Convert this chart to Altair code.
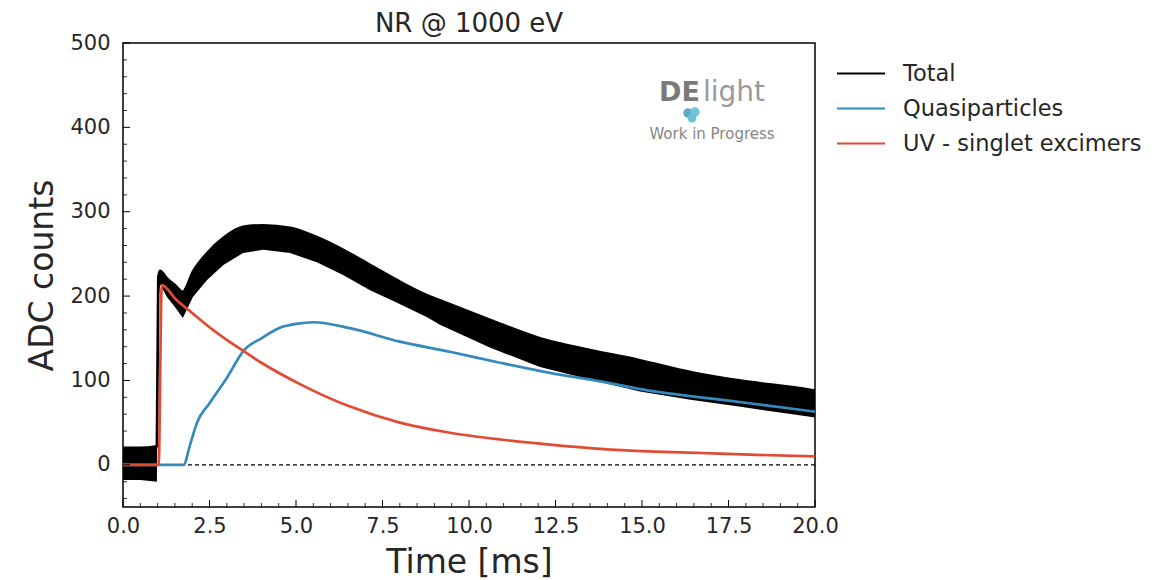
import altair as alt
import pandas as pd

# ---------------- data ----------------
# Total signal: noisy band (lower / upper envelope)
t_band = [0.0, 0.5, 0.98, 1.02, 1.07, 1.27, 1.5, 1.73, 2.02, 2.43, 2.9, 3.47, 4.05,
          4.83, 5.6, 6.36, 7.14, 7.92, 8.79, 9.16, 10.6, 12.05, 13.5, 14.94, 16.4,
          17.8, 19.86, 20.0]
band_upper = [20, 20, 22, 222, 230, 221, 213, 205, 229, 251, 269, 282, 284,
              281, 270, 255, 237, 219, 201, 195, 172, 150, 136, 124, 110,
              100, 89, 88]
band_lower = [-18, -18, -20, 195, 214, 199, 187, 174, 199, 219, 237, 251, 255,
              251, 240, 225, 207, 192, 175, 166, 139, 116, 101, 87, 77,
              69, 57, 56]

# Quasiparticles
t_qp = [0.0, 1.75, 1.94, 2.14, 2.5, 3.0, 3.5, 4.0, 4.5, 5.0, 5.5, 6.56, 8.0, 9.45,
        10.9, 12.34, 13.8, 15.2, 16.7, 18.1, 20.0]
v_qp = [0, 0, 24, 50, 73, 103, 136, 150, 162, 167, 169, 162, 146, 134,
        121, 109, 99, 88, 80, 73, 63]

# UV - singlet excimers
t_uv = [0.0, 1.03, 1.12, 1.53, 2.0, 2.5, 3.0, 3.4, 4.0, 5.1, 6.56, 8.0, 9.45,
        10.9, 12.34, 13.8, 15.2, 16.7, 18.1, 20.0]
v_uv = [0, 0, 213, 196, 180, 163, 148, 137, 121, 96, 69, 50, 38,
        30, 24, 19, 16, 14, 12, 10]

series_names = ["Total", "Quasiparticles", "UV - singlet excimers"]
series_colors = ["#000000", "#348ABD", "#E24A33"]

x_major = [0, 2.5, 5, 7.5, 10, 12.5, 15, 17.5, 20]
x_minor = [0.5, 1, 1.5, 2, 3, 3.5, 4, 4.5, 5.5, 6, 6.5, 7, 8, 8.5, 9, 9.5,
           10.5, 11, 11.5, 12, 13, 13.5, 14, 14.5, 15.5, 16, 16.5, 17, 18, 18.5, 19, 19.5]
y_major = [0, 100, 200, 300, 400, 500]
y_minor = [-40, -20, 20, 40, 60, 80, 120, 140, 160, 180, 220, 240, 260, 280,
           320, 340, 360, 380, 420, 440, 460, 480]

chart_title = ["NR @ 1000 eV"]
logo_words = ["DE", "light", "Work in Progress"]

# ---------------- tables ----------------
band_df = pd.DataFrame({"t": t_band, "lo": band_lower, "hi": band_upper})
lines_df = pd.concat([
    pd.DataFrame({"t": t_band, "v": band_upper, "series": series_names[0]}),
    pd.DataFrame({"t": t_qp, "v": v_qp, "series": series_names[1]}),
    pd.DataFrame({"t": t_uv, "v": v_uv, "series": series_names[2]}),
], ignore_index=True)
lines_df["order"] = lines_df["series"].map({n: i for i, n in enumerate(series_names)})

W, H = 692, 464
FONT = "DejaVu Sans"
TXT = "#262626"

xscale = alt.Scale(domain=[0, 20], nice=False, zero=False)
yscale = alt.Scale(domain=[-50, 500], nice=False, zero=False)

x_axis = alt.Axis(values=x_major, format=".1f", title="Time [ms]", ticks=False, tickSize=0,
                  domain=False, grid=False, labelPadding=8, labelFontSize=21,
                  labelFlush=False, labelFont=FONT, labelColor=TXT,
                  titleFont=FONT, titleColor=TXT,
                  titleFontSize=33, titleX=W / 2, titleY=65, titleBaseline="alphabetic",
                  titleFontWeight="normal")
y_axis = alt.Axis(values=y_major, title="ADC counts", ticks=False, tickSize=0,
                  domain=False, grid=False, labelPadding=13, labelFontSize=21,
                  labelFlush=False, labelFont=FONT, labelColor=TXT,
                  titleFont=FONT, titleColor=TXT,
                  titleFontSize=33, titleX=-71, titleY=H / 2, titleAngle=270,
                  titleAlign="center", titleBaseline="alphabetic", titleFontWeight="normal")

zero_line = alt.Chart(pd.DataFrame({"y": [0]})).mark_rule(
    color="black", strokeWidth=1.2, strokeDash=[4, 3]
).encode(y=alt.Y("y:Q", scale=yscale, axis=y_axis))

band = alt.Chart(band_df).mark_area(color="black", opacity=1, interpolate="linear").encode(
    x=alt.X("t:Q", scale=xscale, axis=x_axis),
    y=alt.Y("lo:Q", scale=yscale),
    y2="hi:Q",
)

lines = alt.Chart(lines_df).mark_line(strokeWidth=2.7, interpolate="monotone").encode(
    x=alt.X("t:Q", scale=xscale),
    y=alt.Y("v:Q", scale=yscale),
    color=alt.Color("series:N",
                    scale=alt.Scale(domain=series_names, range=series_colors),
                    sort=series_names,
                    legend=alt.Legend(title=None, orient="none", legendX=713, legendY=13,
                                      symbolType="stroke", symbolSize=2304,
                                      symbolStrokeWidth=2, labelFontSize=22.5,
                                      labelOffset=17, rowPadding=0, clipHeight=35,
                                      padding=0, labelLimit=400,
                                      labelFont=FONT, labelColor=TXT)),
    order="order:Q",
)

# inward ticks
ytick_major = alt.Chart(pd.DataFrame({"v": y_major})).mark_rule(color="black", strokeWidth=1).encode(
    y=alt.Y("v:Q", scale=yscale), x=alt.value(0), x2=alt.value(7))
ytick_minor = alt.Chart(pd.DataFrame({"v": y_minor})).mark_rule(color="black", strokeWidth=0.8).encode(
    y=alt.Y("v:Q", scale=yscale), x=alt.value(0), x2=alt.value(4))
xtick_major = alt.Chart(pd.DataFrame({"v": x_major})).mark_rule(color="black", strokeWidth=1).encode(
    x=alt.X("v:Q", scale=xscale), y=alt.value(H), y2=alt.value(H - 7))
xtick_minor = alt.Chart(pd.DataFrame({"v": x_minor})).mark_rule(color="black", strokeWidth=0.8).encode(
    x=alt.X("v:Q", scale=xscale), y=alt.value(H), y2=alt.value(H - 4))

# title as text
title_mark = alt.Chart(pd.DataFrame({"w": chart_title})).mark_text(
    font=FONT, fontSize=26, color=TXT, align="center", baseline="alphabetic"
).encode(text="w:N", x=alt.value(W / 2), y=alt.value(-11))

# watermark logo
logo_de = alt.Chart(pd.DataFrame({"w": [logo_words[0]]})).mark_text(
    font=FONT, fontWeight="bold", fontSize=27, color="#7a7a7a", align="left",
    baseline="alphabetic").encode(text="w:N", x=alt.value(536), y=alt.value(58))
logo_light = alt.Chart(pd.DataFrame({"w": [logo_words[1]]})).mark_text(
    font=FONT, fontSize=28, color="#9a9a9a", align="left",
    baseline="alphabetic").encode(text="w:N", x=alt.value(580), y=alt.value(58))
logo_wip = alt.Chart(pd.DataFrame({"w": [logo_words[2]]})).mark_text(
    font=FONT, fontSize=15, color="#858585", align="center",
    baseline="alphabetic").encode(text="w:N", x=alt.value(589), y=alt.value(96))
cloud_df = pd.DataFrame({"k": [0, 1, 2]})
cloud1 = alt.Chart(cloud_df.iloc[:1]).mark_circle(color="#5ea9c2", opacity=1, size=90).encode(
    x=alt.value(565), y=alt.value(70))
cloud2 = alt.Chart(cloud_df.iloc[1:2]).mark_circle(color="#72c4d9", opacity=1, size=90).encode(
    x=alt.value(572), y=alt.value(69))
cloud3 = alt.Chart(cloud_df.iloc[2:3]).mark_circle(color="#6cc2d8", opacity=1, size=80).encode(
    x=alt.value(569), y=alt.value(75))

chart = alt.layer(
    zero_line, band, lines,
    ytick_major, ytick_minor, xtick_major, xtick_minor,
    title_mark, logo_de, logo_light, logo_wip, cloud1, cloud2, cloud3,
).properties(
    width=W, height=H,
    autosize=alt.AutoSizeParams(type="none"),
    padding={"left": 123, "top": 43, "right": 360, "bottom": 73},
    background="white",
).configure_view(
    stroke="black", strokeWidth=1.5
).configure_axis(
    labelFont=FONT, titleFont=FONT, labelColor=TXT, titleColor=TXT
)

chart.save("out.html", embed_options={"renderer": "svg", "actions": False})
